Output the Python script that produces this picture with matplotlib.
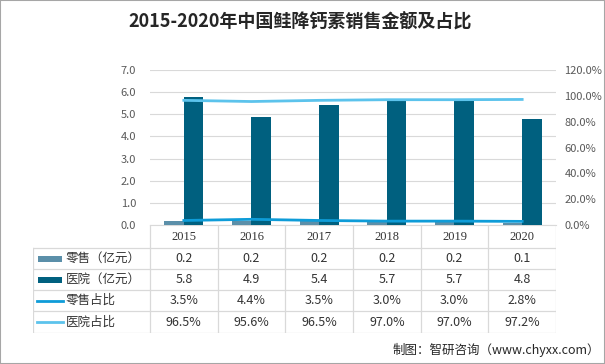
import numpy as np
import matplotlib
matplotlib.use('Agg')
import matplotlib.pyplot as plt
from matplotlib.patches import Rectangle
from matplotlib.lines import Line2D

plt.rcParams['font.family'] = ['Noto Sans CJK SC', 'DejaVu Sans']

# data
years = ['2015', '2016', '2017', '2018', '2019', '2020']
retail = [0.2, 0.2, 0.2, 0.2, 0.2, 0.1]          # 零售（亿元）
hospital = [5.8, 4.9, 5.4, 5.7, 5.7, 4.8]        # 医院（亿元）
retail_pct = [3.5, 4.4, 3.5, 3.0, 3.0, 2.8]      # 零售占比 %
hospital_pct = [96.5, 95.6, 96.5, 97.0, 97.0, 97.2]  # 医院占比 %

c_retail = '#5B8FA9'
c_hosp = '#00607F'
c_rpct = '#0E9CD8'
c_hpct = '#5CC3EC'
grid_c = '#D9D9D9'
txt_c = '#595959'

W, H = 605, 364
fig = plt.figure(figsize=(W / 100, H / 100), dpi=100)
fig.patches.append(Rectangle((0, 0), 1, 1, transform=fig.transFigure,
                             fill=False, ec='#A6A6A6', lw=1.5))

# plot area in pixels
x0, x1 = 150, 556
ytop, ybot = 70, 225
ax = fig.add_axes([x0 / W, 1 - ybot / H, (x1 - x0) / W, (ybot - ytop) / H])
n = len(years)
x = np.arange(n)
bw = 0.29
ax.bar(x - bw / 2, retail, bw, color=c_retail, zorder=3)
ax.bar(x + bw / 2, hospital, bw, color=c_hosp, zorder=3)
ax.set_xlim(-0.5, n - 0.5)
ax.set_ylim(0, 7)
ax.set_yticks(np.arange(0, 7.1, 1.0))
ax.set_yticklabels(['%.1f' % v for v in np.arange(0, 7.1, 1.0)])
ax.set_xticks([])
ax.grid(axis='y', color=grid_c, lw=0.8, zorder=0)
for s in ['top', 'right', 'left']:
    ax.spines[s].set_visible(False)
ax.spines['bottom'].set_color(grid_c)
ax.tick_params(axis='y', length=0, labelsize=8, labelcolor=txt_c, pad=10)

ax2 = ax.twinx()
ax2.plot(x, retail_pct, color=c_rpct, lw=2, zorder=4)
ax2.plot(x, hospital_pct, color=c_hpct, lw=2, zorder=4)
ax2.set_ylim(0, 120)
ax2.set_yticks(np.arange(0, 121, 20))
ax2.set_yticklabels(['%.1f%%' % v for v in np.arange(0, 121, 20)])
for s in ['top', 'right', 'left', 'bottom']:
    ax2.spines[s].set_visible(False)
ax2.tick_params(axis='y', length=0, labelsize=8, labelcolor=txt_c, pad=6)

# data table under the chart
tl, tb = 33, 333
axt = fig.add_axes([tl / W, 1 - tb / H, (x1 - tl) / W, (tb - ybot) / H])
axt.set_xlim(tl, x1)
axt.set_ylim(tb, ybot)
axt.axis('off')
cw = (x1 - x0) / n
rows = [ybot, 248, 269, 290, 311, 333]
lc = '#D9D9D9'
for i in range(n + 1):
    axt.plot([x0 + i * cw] * 2, [ybot, tb], color=lc, lw=0.9)
for r in rows[1:]:
    axt.plot([tl, x1], [r, r], color=lc, lw=0.9)
axt.plot([tl, tl], [rows[1], tb], color=lc, lw=0.9)

for i, yr in enumerate(years):
    axt.text(x0 + (i + 0.5) * cw, (rows[0] + rows[1]) / 2, yr,
             ha='center', va='center', fontsize=9, color='#333333',
             family='Liberation Serif')

labels = ['零售（亿元）', '医院（亿元）', '零售占比', '医院占比']
values = [['%.1f' % v for v in retail],
          ['%.1f' % v for v in hospital],
          ['%.1f%%' % v for v in retail_pct],
          ['%.1f%%' % v for v in hospital_pct]]
for j, lab in enumerate(labels):
    yc = (rows[j + 1] + rows[j + 2]) / 2
    if j < 2:
        col = [c_retail, c_hosp][j]
        axt.add_patch(Rectangle((38, yc - 3), 24, 6, color=col, lw=0))
    else:
        col = [c_rpct, c_hpct][j - 2]
        axt.add_line(Line2D([37, 63], [yc, yc], color=col, lw=2))
    axt.text(66, yc, lab, ha='left', va='center', fontsize=9, color='#333333')
    for i in range(n):
        axt.text(x0 + (i + 0.5) * cw, yc, values[j][i], ha='center',
                 va='center', fontsize=9, color='#333333')

fig.text(300 / W, 1 - 22 / H, '2015-2020年中国鲑降钙素销售金额及占比',
         ha='center', va='center', fontsize=13, fontweight='bold',
         color='#262626')
fig.text(600 / W, 1 - 350 / H, '制图：智研咨询（www.chyxx.com）',
         ha='right', va='center', fontsize=9, color='#262626')

fig.savefig('out.png', dpi=100)
plt.close(fig)
